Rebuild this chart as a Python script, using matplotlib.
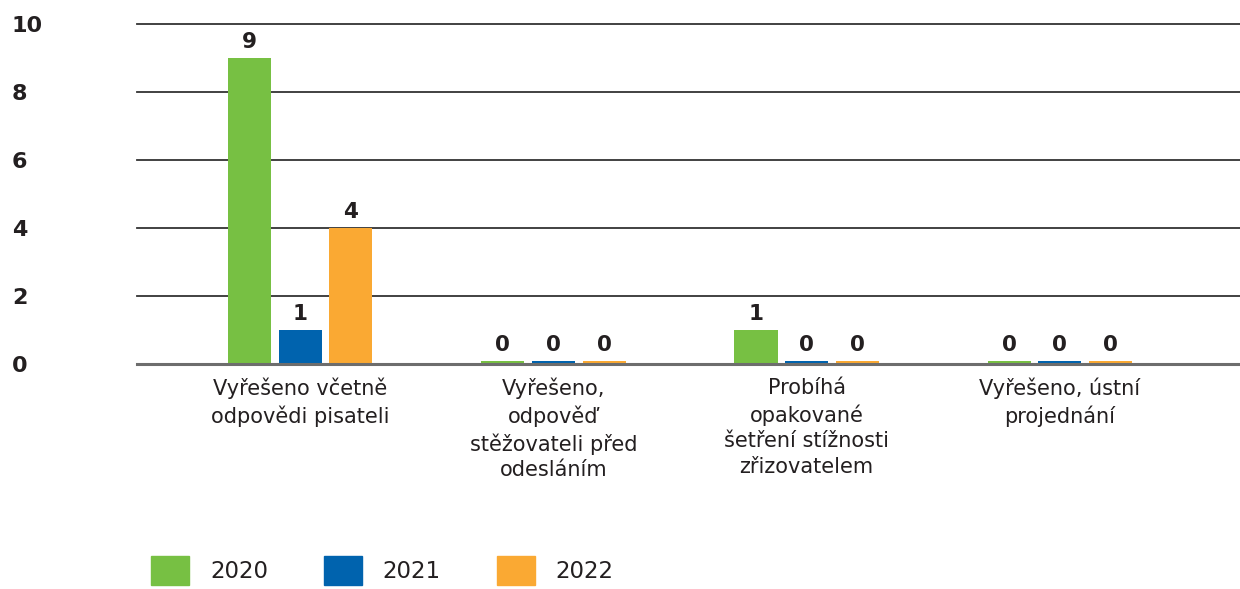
import numpy as np
import matplotlib.pyplot as plt
from matplotlib.patches import Patch

# Data
categories = ["Vyřešeno včetně\nodpovědi pisateli",
              "Vyřešeno,\nodpověď\nstěžovateli před\nodesláním",
              "Probíhá\nopakované\nšetření stížnosti\nzřizovatelem",
              "Vyřešeno, ústní\nprojednání"]
years = ["2020", "2021", "2022"]
v2020 = [9, 0, 1, 0]
v2021 = [1, 0, 0, 0]
v2022 = [4, 0, 0, 0]
series = [v2020, v2021, v2022]
colors = ["#77C043", "#0063AE", "#FAA933"]

plt.rcParams['font.family'] = ['DejaVu Sans']
text_color = "#231F20"

fig = plt.figure(figsize=(12.4, 5.89), dpi=100)
ax = fig.add_axes([137 / 1240, 1 - 364 / 589, 1 - 137 / 1240, 340 / 589])

x = np.arange(len(categories))
width = 0.17
step = 0.2
stub = 0.09  # thin stub so zero values stay visible

for i, (vals, col) in enumerate(zip(series, colors)):
    pos = x + (i - 1) * step
    heights = [v if v > 0 else stub for v in vals]
    ax.bar(pos, heights, width=width, color=col, zorder=3)
    for px, v, h in zip(pos, vals, heights):
        ax.text(px, h + 0.18, str(v), ha='center', va='bottom',
                fontsize=15.5, fontweight='bold', color=text_color)

ax.set_ylim(0, 10)
ax.set_xlim(-0.644, 3.711)
ax.set_yticks(range(0, 11, 2))
ax.yaxis.grid(True, color="#333333", linewidth=1.3, zorder=0)
for gl in ax.get_ygridlines():
    gl.set_clip_on(False)
ax.axhline(0, color="#6d6d6d", linewidth=2.2, zorder=4, clip_on=False)
for s in ax.spines.values():
    s.set_visible(False)

ax.tick_params(axis='y', length=0, pad=90, labelsize=16, labelcolor=text_color)
for lab in ax.get_yticklabels():
    lab.set_horizontalalignment('left')
    lab.set_fontweight('bold')

ax.set_xticks(x)
ax.set_xticklabels(categories, fontsize=15, color=text_color, linespacing=1.35)
ax.tick_params(axis='x', length=0, pad=10)

handles = [Patch(color=c, label=y) for c, y in zip(colors, years)]
fig.legend(handles=handles, loc='lower left', bbox_to_anchor=(140 / 1240, -0.012),
           ncol=3, frameon=False, fontsize=16.5, handlelength=1.65, handleheight=1.55,
           handletextpad=0.9, columnspacing=2.45, borderpad=0.0,
           labelcolor=text_color)

fig.savefig("out.png", dpi=100)
